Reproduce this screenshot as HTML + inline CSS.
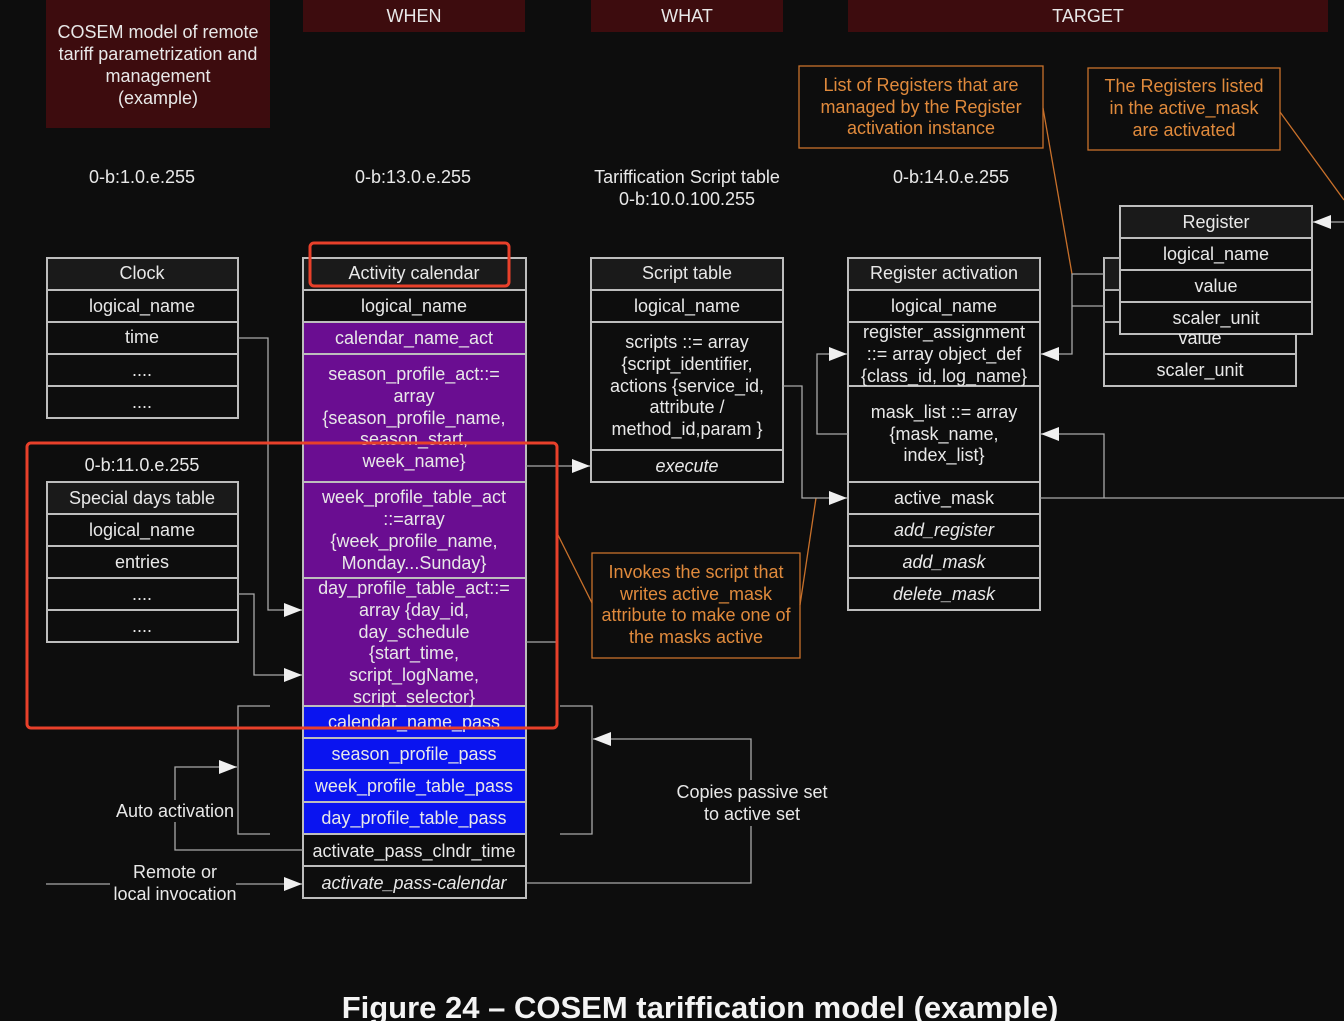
<!DOCTYPE html>
<html><head><meta charset="utf-8"><style>
html,body{margin:0;padding:0;background:#0d0d0d;}
svg{display:block;}
text{font-family:"Liberation Sans",sans-serif;font-size:18px;fill:#e8e8e8;text-anchor:middle;}
.o{fill:#e08a3c;}
.i{font-style:italic;}
</style></head><body>
<svg width="1344" height="1021" viewBox="0 0 1344 1021" xmlns="http://www.w3.org/2000/svg">
<defs>
<marker id="b" markerWidth="20" markerHeight="14" refX="18" refY="7" orient="auto" markerUnits="userSpaceOnUse"><path d="M0,0 L18,7 L0,14 z" fill="#f0f0f0"/></marker>
</defs>
<rect width="1344" height="1021" fill="#0d0d0d"/>
<rect x="46" y="0" width="224" height="128" fill="#3d0c0e"/>
<text x="158" y="38">COSEM model of remote</text>
<text x="158" y="60">tariff parametrization and</text>
<text x="158" y="82">management</text>
<text x="158" y="104">(example)</text>
<rect x="303" y="0" width="222" height="32" fill="#3d0c0e"/><text x="414" y="22">WHEN</text>
<rect x="591" y="0" width="192" height="32" fill="#3d0c0e"/><text x="687" y="22">WHAT</text>
<rect x="848" y="0" width="480" height="32" fill="#3d0c0e"/><text x="1088" y="22">TARGET</text>
<g fill="none" stroke="#c8702a" stroke-width="1.3">
<rect x="799" y="66" width="244" height="82"/>
<rect x="1088" y="68" width="192" height="82"/>
<rect x="592" y="553" width="208" height="105"/>
<line x1="1043" y1="108" x2="1072" y2="274"/>
<line x1="1280" y1="112" x2="1344" y2="200"/>
<line x1="800" y1="605" x2="816" y2="498"/>
<line x1="558" y1="535" x2="592" y2="603"/>
</g>
<text class="o" x="921" y="91">List of Registers that are</text>
<text class="o" x="921" y="113">managed by the Register</text>
<text class="o" x="921" y="134">activation instance</text>
<text class="o" x="1184" y="92">The Registers listed</text>
<text class="o" x="1184" y="114">in the active_mask</text>
<text class="o" x="1184" y="136">are activated</text>
<text class="o" x="696" y="578">Invokes the script that</text>
<text class="o" x="696" y="600">writes active_mask</text>
<text class="o" x="696" y="621">attribute to make one of</text>
<text class="o" x="696" y="643">the masks active</text>
<text x="142" y="183">0-b:1.0.e.255</text>
<text x="413" y="183">0-b:13.0.e.255</text>
<text x="687" y="183">Tariffication Script table</text>
<text x="687" y="205">0-b:10.0.100.255</text>
<text x="951" y="183">0-b:14.0.e.255</text>
<text x="142" y="471">0-b:11.0.e.255</text>
<g stroke="#bdbdbd" stroke-width="2">
<rect x="47" y="258" width="191" height="32" fill="#1a1a1a"/>
<rect x="47" y="290" width="191" height="32" fill="#0d0d0d"/>
<rect x="47" y="322" width="191" height="32" fill="#0d0d0d"/>
<rect x="47" y="354" width="191" height="32" fill="#0d0d0d"/>
<rect x="47" y="386" width="191" height="32" fill="#0d0d0d"/>
<rect x="47" y="482" width="191" height="32" fill="#1a1a1a"/>
<rect x="47" y="514" width="191" height="32" fill="#0d0d0d"/>
<rect x="47" y="546" width="191" height="32" fill="#0d0d0d"/>
<rect x="47" y="578" width="191" height="32" fill="#0d0d0d"/>
<rect x="47" y="610" width="191" height="32" fill="#0d0d0d"/>
<rect x="303" y="258" width="223" height="32" fill="#1a1a1a"/>
<rect x="303" y="290" width="223" height="32" fill="#0d0d0d"/>
<rect x="303" y="322" width="223" height="32" fill="#6a0d91"/>
<rect x="303" y="354" width="223" height="128" fill="#6a0d91"/>
<rect x="303" y="482" width="223" height="96" fill="#6a0d91"/>
<rect x="303" y="578" width="223" height="128" fill="#6a0d91"/>
<rect x="303" y="706" width="223" height="32" fill="#0a14f0"/>
<rect x="303" y="738" width="223" height="32" fill="#0a14f0"/>
<rect x="303" y="770" width="223" height="32" fill="#0a14f0"/>
<rect x="303" y="802" width="223" height="32" fill="#0a14f0"/>
<rect x="303" y="834" width="223" height="32" fill="#0d0d0d"/>
<rect x="303" y="866" width="223" height="32" fill="#0d0d0d"/>
<rect x="591" y="258" width="192" height="32" fill="#1a1a1a"/>
<rect x="591" y="290" width="192" height="32" fill="#0d0d0d"/>
<rect x="591" y="322" width="192" height="128" fill="#0d0d0d"/>
<rect x="591" y="450" width="192" height="32" fill="#0d0d0d"/>
<rect x="848" y="258" width="192" height="32" fill="#1a1a1a"/>
<rect x="848" y="290" width="192" height="32" fill="#0d0d0d"/>
<rect x="848" y="322" width="192" height="64" fill="#0d0d0d"/>
<rect x="848" y="386" width="192" height="96" fill="#0d0d0d"/>
<rect x="848" y="482" width="192" height="32" fill="#0d0d0d"/>
<rect x="848" y="514" width="192" height="32" fill="#0d0d0d"/>
<rect x="848" y="546" width="192" height="32" fill="#0d0d0d"/>
<rect x="848" y="578" width="192" height="32" fill="#0d0d0d"/>
<rect x="1104" y="258" width="192" height="32" fill="#1a1a1a"/>
<rect x="1104" y="290" width="192" height="32" fill="#0d0d0d"/>
<rect x="1104" y="322" width="192" height="32" fill="#0d0d0d"/>
<rect x="1104" y="354" width="192" height="32" fill="#0d0d0d"/>
<rect x="1120" y="206" width="192" height="32" fill="#1a1a1a"/>
<rect x="1120" y="238" width="192" height="32" fill="#0d0d0d"/>
<rect x="1120" y="270" width="192" height="32" fill="#0d0d0d"/>
<rect x="1120" y="302" width="192" height="32" fill="#0d0d0d"/>
</g>
<text x="142" y="279">Clock</text><text x="142" y="312">logical_name</text><text x="142" y="343">time</text>
<text x="142" y="376">....</text><text x="142" y="408">....</text>
<text x="142" y="504">Special days table</text><text x="142" y="536">logical_name</text><text x="142" y="568">entries</text>
<text x="142" y="600">....</text><text x="142" y="632">....</text>
<text x="414" y="279">Activity calendar</text><text x="414" y="312">logical_name</text>
<text x="414" y="344">calendar_name_act</text>
<text x="414" y="380">season_profile_act::=</text><text x="414" y="402">array</text>
<text x="414" y="424">{season_profile_name,</text><text x="414" y="445">season_start,</text><text x="414" y="467">week_name}</text>
<text x="414" y="503">week_profile_table_act</text><text x="414" y="525">::=array</text>
<text x="414" y="547">{week_profile_name,</text><text x="414" y="569">Monday...Sunday}</text>
<text x="414" y="594">day_profile_table_act::=</text><text x="414" y="616">array {day_id,</text>
<text x="414" y="638">day_schedule</text><text x="414" y="659">{start_time,</text>
<text x="414" y="681">script_logName,</text><text x="414" y="703">script_selector}</text>
<text x="414" y="728">calendar_name_pass</text><text x="414" y="760">season_profile_pass</text>
<text x="414" y="792">week_profile_table_pass</text><text x="414" y="824">day_profile_table_pass</text>
<text x="414" y="857">activate_pass_clndr_time</text>
<text class="i" x="414" y="889">activate_pass-calendar</text>
<text x="687" y="279">Script table</text><text x="687" y="312">logical_name</text>
<text x="687" y="348">scripts ::= array</text><text x="687" y="370">{script_identifier,</text>
<text x="687" y="392">actions {service_id,</text><text x="687" y="413">attribute /</text>
<text x="687" y="435">method_id,param }</text>
<text class="i" x="687" y="472">execute</text>
<text x="944" y="279">Register activation</text><text x="944" y="312">logical_name</text>
<text x="944" y="338">register_assignment</text><text x="944" y="360">::= array object_def</text>
<text x="944" y="382">{class_id, log_name}</text>
<text x="944" y="418">mask_list ::= array</text><text x="944" y="440">{mask_name,</text><text x="944" y="461">index_list}</text>
<text x="944" y="504">active_mask</text>
<text class="i" x="944" y="536">add_register</text><text class="i" x="944" y="568">add_mask</text><text class="i" x="944" y="600">delete_mask</text>
<text x="1200" y="344">value</text><text x="1200" y="376">scaler_unit</text>
<rect x="1121" y="303" width="190" height="30" fill="#0d0d0d"/>
<text x="1216" y="228">Register</text><text x="1216" y="260">logical_name</text>
<text x="1216" y="292">value</text><text x="1216" y="324">scaler_unit</text>
<g fill="none" stroke="#a8a8a8" stroke-width="1.3">
<polyline points="238,338 268,338 268,610 302,610" marker-end="url(#b)"/>
<polyline points="238,594 254,594 254,675 302,675" marker-end="url(#b)"/>
<polyline points="526,466 590,466" marker-end="url(#b)"/>
<line x1="526" y1="642" x2="558" y2="642"/>
<polyline points="783,386 802,386 802,498 847,498" marker-end="url(#b)"/>
<polyline points="848,434 817,434 817,354 847,354" marker-end="url(#b)"/>
<polyline points="1104,274 1072,274 1072,354 1041,354" marker-end="url(#b)"/>
<line x1="1072" y1="306" x2="1104" y2="306"/>
<line x1="1104" y1="258" x2="1120" y2="258"/>
<line x1="1104" y1="290" x2="1120" y2="290"/>
<line x1="1104" y1="322" x2="1120" y2="322"/>
<line x1="1040" y1="498" x2="1344" y2="498"/>
<polyline points="1104,498 1104,434 1041,434" marker-end="url(#b)"/>
<polyline points="1344,222 1313,222" marker-end="url(#b)"/>
<polyline points="270,706 238,706 238,834 270,834"/>
<polyline points="175,800 175,767 237,767" marker-end="url(#b)"/>
<polyline points="175,822 175,850 303,850"/>
<line x1="46" y1="884" x2="110" y2="884"/>
<polyline points="236,884 302,884" marker-end="url(#b)"/>
<polyline points="560,706 592,706 592,834 560,834"/>
<polyline points="751,780 751,739 593,739" marker-end="url(#b)"/>
<polyline points="751,826 751,883 526,883"/>
</g>
<text x="175" y="817">Auto activation</text>
<text x="175" y="878">Remote or</text><text x="175" y="900">local invocation</text>
<text x="752" y="798">Copies passive set</text><text x="752" y="820">to active set</text>
<g fill="none" stroke="#e8402a" stroke-width="3">
<rect x="310" y="243" width="199" height="43" rx="4"/>
<rect x="27" y="443" width="530" height="285" rx="4"/>
</g>
<text x="700" y="1018" style="font-size:31px;font-weight:bold;fill:#f4f4f4;">Figure 24 – COSEM tariffication model (example)</text>
</svg>
</body></html>
